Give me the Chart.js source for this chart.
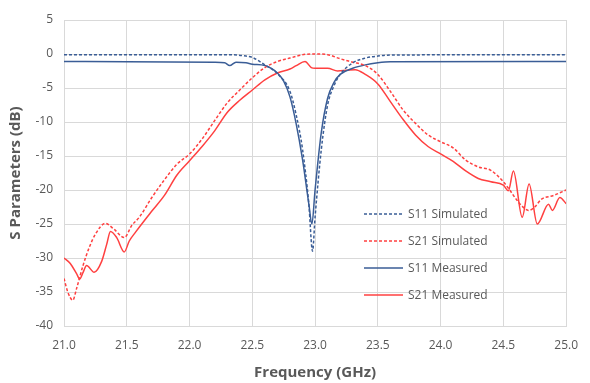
<!DOCTYPE html>
<html>
<head>
<meta charset="utf-8">
<script src="https://cdn.jsdelivr.net/npm/chart.js@4/dist/chart.umd.min.js"></script>
<style>
  html, body { margin: 0; padding: 0; background: #fff; }
  #wrap { position: relative; width: 590px; height: 383px; }
  #legend {
    position: absolute; left: 364px; top: 200px;
    font-family: 'Open Sans', sans-serif; font-size: 12px; color: #595959;
  }
  #legend .row { height: 27px; display: flex; align-items: center; }
  #legend svg { margin-right: 5px; }
</style>
</head>
<body>
<div id="wrap">
  <canvas id="sparams" width="590" height="383"></canvas>
  <div id="legend"></div>
</div>
<script>
const seriesLabels = ['S11 Simulated', 'S21 Simulated', 'S11 Measured', 'S21 Measured'];
const xTicks = [21.0, 21.5, 22.0, 22.5, 23.0, 23.5, 24.0, 24.5, 25.0];
const yTicks = [5, 0, -5, -10, -15, -20, -25, -30, -35, -40];

// S11 simulated
const s11SimFreq = [21.0, 22.3, 22.45, 22.5, 22.6, 22.7, 22.8, 22.85, 22.9, 22.95, 22.98, 23.0, 23.05, 23.1, 23.15, 23.2, 23.3, 23.4, 23.5, 23.6, 25.0];
const s11SimDb = [-0.1, -0.1, -0.3, -0.5, -1.6, -2.9, -5.5, -9, -14, -22, -29, -24, -14, -7.5, -4.7, -3, -1.3, -0.6, -0.3, -0.15, -0.1];

// S21 simulated
const s21SimFreq = [21.0, 21.03, 21.07, 21.1, 21.15, 21.2, 21.25, 21.33, 21.4, 21.48, 21.54, 21.6, 21.7, 21.8, 21.9, 22.0, 22.1, 22.2, 22.3, 22.4, 22.5, 22.6, 22.7, 22.8, 22.92, 23.0, 23.1, 23.2, 23.3, 23.4, 23.5, 23.6, 23.7, 23.8, 23.9, 24.0, 24.1, 24.2, 24.3, 24.4, 24.5, 24.55, 24.6, 24.65, 24.7, 24.75, 24.8, 24.9, 25.0];
const s21SimDb = [-33, -35, -36.2, -34.5, -31.2, -28.5, -26.5, -24.9, -25.8, -27, -25.2, -24, -21.1, -18.5, -16.2, -14.7, -12.5, -9.8, -7.2, -5.3, -3.5, -2.0, -1.1, -0.6, -0.05, 0, -0.1, -0.7, -1.2, -1.7, -3.0, -5.5, -8.2, -10.2, -11.9, -12.9, -13.8, -15.6, -16.6, -17.1, -18.8, -20, -21.3, -22.4, -23, -22.5, -21.4, -20.8, -20];

// S11 measured
const s11MeasFreq = [21.0, 21.5, 22.2, 22.28, 22.32, 22.37, 22.45, 22.5, 22.6, 22.7, 22.75, 22.8, 22.85, 22.9, 22.95, 22.975, 23.0, 23.05, 23.1, 23.15, 23.2, 23.3, 23.4, 23.5, 23.6, 25.0];
const s11MeasDb = [-1.1, -1.15, -1.2, -1.3, -1.7, -1.2, -1.3, -1.5, -1.7, -2.8, -4, -6.3, -10.3, -15.5, -22, -25, -20, -11.5, -6.5, -4.2, -3, -2.1, -1.6, -1.3, -1.15, -1.1];

// S21 measured
const s21MeasFreq = [21.0, 21.05, 21.1, 21.125, 21.15, 21.18, 21.24, 21.3, 21.34, 21.37, 21.42, 21.48, 21.52, 21.57, 21.7, 21.8, 21.9, 22.0, 22.1, 22.2, 22.3, 22.4, 22.5, 22.6, 22.7, 22.8, 22.85, 22.92, 22.97, 23.0, 23.1, 23.18, 23.25, 23.32, 23.4, 23.5, 23.6, 23.7, 23.8, 23.9, 24.0, 24.1, 24.2, 24.3, 24.4, 24.5, 24.54, 24.58, 24.65, 24.705, 24.77, 24.86, 24.89, 24.95, 25.0];
const s21MeasDb = [-30, -30.8, -32.3, -33.1, -32.2, -31.1, -32.1, -30.5, -28, -26.1, -27, -29.1, -27.5, -26.2, -23.1, -20.8, -17.8, -15.7, -13.6, -11.3, -8.6, -6.8, -5.3, -3.8, -2.8, -2.2, -1.7, -1.1, -2.0, -2.1, -2.1, -2.5, -2.4, -2.3, -3.0, -4.4, -7.0, -9.6, -11.9, -13.6, -14.7, -15.8, -17.2, -18.3, -18.8, -19.3, -20.1, -17.2, -24, -19.1, -25, -22.1, -23, -21.1, -22];

const navy = '#3A5D96';
const red = '#FF4040';
const grey = '#595959';

function toPoints(freq, db) {
  return freq.map((f, i) => ({ x: f, y: db[i] }));
}

function makeSet(label, freq, db, color, dashed) {
  return {
    label: label,
    data: toPoints(freq, db),
    borderColor: color,
    backgroundColor: color,
    borderWidth: 1.5,
    borderDash: dashed ? [3, 2] : [],
    pointRadius: 0,
    cubicInterpolationMode: 'monotone',
  };
}

const chart = new Chart(document.getElementById('sparams').getContext('2d'), {
  type: 'line',
  data: {
    datasets: [
      makeSet(seriesLabels[0], s11SimFreq, s11SimDb, navy, true),
      makeSet(seriesLabels[1], s21SimFreq, s21SimDb, red, true),
      makeSet(seriesLabels[2], s11MeasFreq, s11MeasDb, navy, false),
      makeSet(seriesLabels[3], s21MeasFreq, s21MeasDb, red, false),
    ],
  },
  options: {
    responsive: false,
    animation: false,
    layout: { padding: { top: 20, right: 14, bottom: 0, left: 0 } },
    plugins: { legend: { display: false }, tooltip: { enabled: false } },
    scales: {
      x: {
        type: 'linear',
        min: 21,
        max: 25,
        afterBuildTicks: (s) => { s.ticks = xTicks.map((v) => ({ value: v })); },
        afterFit: (s) => { s.height = 57; },
        ticks: {
          color: grey,
          font: { family: 'Open Sans', size: 12 },
          padding: 12,
          maxRotation: 0,
          callback: (v) => Number(v).toFixed(1),
        },
        grid: { color: '#D9D9D9', drawTicks: false },
        border: { color: '#D9D9D9' },
        title: {
          display: true,
          text: 'Frequency (GHz)',
          color: grey,
          font: { family: 'Open Sans', size: 15, weight: 'bold' },
          padding: { top: 0, bottom: 1 },
        },
      },
      y: {
        min: -40,
        max: 5,
        afterBuildTicks: (s) => { s.ticks = yTicks.map((v) => ({ value: v })); },
        afterFit: (s) => { s.width = 64; },
        ticks: {
          color: grey,
          font: { family: 'Open Sans', size: 12 },
          padding: 11,
        },
        grid: { color: '#D9D9D9', drawTicks: false },
        border: { color: '#D9D9D9' },
        title: {
          display: true,
          text: 'S Parameters (dB)',
          color: grey,
          font: { family: 'Open Sans', size: 15, weight: 'bold' },
          padding: { top: 7, bottom: 0 },
        },
      },
    },
  },
});

// legend drawn as html over the plot
const legendBox = document.getElementById('legend');
chart.data.datasets.forEach((ds) => {
  const row = document.createElement('div');
  row.className = 'row';
  const dash = ds.borderDash.length ? 'stroke-dasharray="3,2"' : '';
  row.innerHTML =
    '<svg width="39" height="4"><line x1="0" y1="2" x2="39" y2="2" stroke="' +
    ds.borderColor + '" stroke-width="1.5" ' + dash + '/></svg><span>' + ds.label + '</span>';
  legendBox.appendChild(row);
});
</script>
</body>
</html>
